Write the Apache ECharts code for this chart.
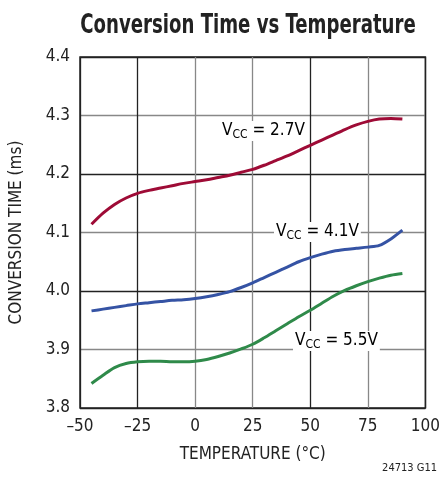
<!DOCTYPE html>
<html><head><meta charset="utf-8">
<script src="https://cdn.jsdelivr.net/npm/echarts@6/dist/echarts.min.js"></script>
<style>html,body{margin:0;padding:0;background:#fff}#c{width:443px;height:478px}</style>
</head><body><div id="c"></div>
<script>
const FONT = "'Liberation Sans Narrow','DejaVu Sans Condensed','Roboto',sans-serif";
const TITLE = 'Conversion Time vs Temperature';
const xTicks = [-50, -25, 0, 25, 50, 75, 100];
const yTicks = [3.8, 3.9, 4.0, 4.1, 4.2, 4.3, 4.4];
const temps  = [-45, -40, -35, -30, -25, -20, -15, -10, -5, 0, 5, 10, 15, 20, 25, 30, 35, 40, 45, 50, 55, 60, 65, 70, 75, 80, 85, 90];
const vcc27  = [4.114, 4.133, 4.148, 4.159, 4.167, 4.172, 4.176, 4.180, 4.184, 4.187, 4.190, 4.194, 4.198, 4.203, 4.208, 4.215, 4.223, 4.231, 4.240, 4.249, 4.258, 4.267, 4.276, 4.284, 4.290, 4.294, 4.295, 4.294];
const vcc41  = [3.966, 3.969, 3.972, 3.975, 3.978, 3.980, 3.982, 3.984, 3.985, 3.987, 3.990, 3.994, 3.999, 4.006, 4.014, 4.023, 4.032, 4.041, 4.050, 4.057, 4.063, 4.068, 4.071, 4.073, 4.075, 4.078, 4.089, 4.104];
const vcc55  = [3.842, 3.856, 3.869, 3.876, 3.879, 3.880, 3.880, 3.879, 3.879, 3.880, 3.883, 3.888, 3.894, 3.901, 3.909, 3.920, 3.932, 3.944, 3.956, 3.967, 3.979, 3.991, 4.001, 4.009, 4.016, 4.022, 4.027, 4.030];
const seriesNames = ['2.7V', '4.1V', '5.5V'];

const pairs = (xs, ys) => xs.map((x, i) => [x, ys[i]]);
const chart = echarts.init(document.getElementById('c'), null, {renderer: 'canvas'});
const lbl = (txt) => ({ text: '{v|V}{s|CC}{v| = ' + txt + '}' });
const rich = {
  v: {fontFamily: FONT, fontSize: 17, color: '#222'},
  s: {fontFamily: FONT, fontSize: 12, color: '#222', padding: [8, 0, 0, 0]}
};
chart.setOption({
  animation: false,
  grid: {left: 78, right: 13, top: 57, bottom: 70, show: true, borderColor: '#222', borderWidth: 1.5, backgroundColor: 'transparent'},
  xAxis: {
    type: 'value', min: xTicks[0], max: xTicks[xTicks.length - 1], interval: 25,
    name: 'TEMPERATURE (°C)', nameLocation: 'middle', nameGap: 38,
    nameTextStyle: {fontFamily: FONT, fontSize: 17, color: '#222'},
    axisLine: {show: false}, axisTick: {show: false},
    axisLabel: {margin: 10, fontFamily: FONT, fontSize: 17, color: '#222',
      formatter: v => String(v).replace('-', '\u2013')},
    splitLine: {show: true, lineStyle: {width: 1.3, color: ['#222', '#222', '#888', '#888', '#222', '#888', '#222']}}
  },
  yAxis: {
    type: 'value', min: yTicks[0], max: yTicks[yTicks.length - 1], interval: 0.1,
    name: 'CONVERSION TIME (ms)', nameLocation: 'middle', nameGap: 55, nameRotate: 90,
    nameTextStyle: {fontFamily: FONT, fontSize: 17, color: '#222'},
    axisLine: {show: false}, axisTick: {show: false},
    axisLabel: {margin: 10, fontFamily: FONT, fontSize: 17, color: '#222', formatter: v => v.toFixed(1)},
    splitLine: {show: true, lineStyle: {width: 1.3, color: ['#222', '#888', '#222', '#888', '#222', '#888', '#222']}}
  },
  series: [
    {name: seriesNames[0], type: 'line', smooth: 0.3, showSymbol: false, data: pairs(temps, vcc27), lineStyle: {color: '#9e0b36', width: 3}},
    {name: seriesNames[1], type: 'line', smooth: 0.3, showSymbol: false, data: pairs(temps, vcc41), lineStyle: {color: '#3553a4', width: 3}},
    {name: seriesNames[2], type: 'line', smooth: 0.3, showSymbol: false, data: pairs(temps, vcc55), lineStyle: {color: '#2f8a4a', width: 3}}
  ],
  graphic: [
    {type: 'text', x: 248, y: 26, scaleX: 0.775, scaleY: 1, z: 100,
      style: {text: TITLE, fontFamily: FONT, fontWeight: 'bold', fontSize: 26, fill: '#222', align: 'center', verticalAlign: 'middle'}},
    {type: 'text', left: 220, top: 121, z: 100, style: Object.assign(lbl('2.7V'), {rich, backgroundColor: '#fff', padding: [0, 2]})},
    {type: 'text', left: 274, top: 222, z: 100, style: Object.assign(lbl('4.1V'), {rich, backgroundColor: '#fff', padding: [0, 2]})},
    {type: 'text', left: 293, top: 331, z: 100, style: Object.assign(lbl('5.5V'), {rich, backgroundColor: '#fff', padding: [0, 2]})},
    {type: 'text', right: 6, top: 463, style: {text: '24713 G11', fontFamily: FONT, fontSize: 11, fill: '#222'}}
  ]
});
</script></body></html>
